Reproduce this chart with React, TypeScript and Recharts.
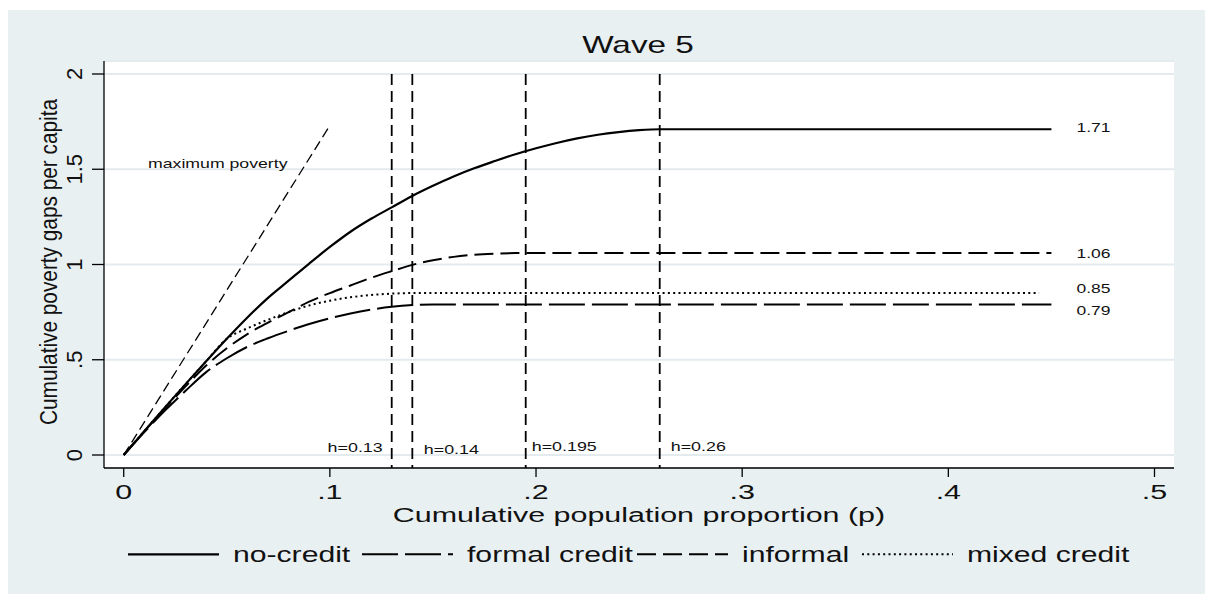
import React from "react";
import {
  LineChart,
  Line,
  XAxis,
  YAxis,
  CartesianGrid,
  ReferenceLine,
  ReferenceDot,
  Legend,
  Customized,
} from "recharts";

const FONT = "'Liberation Sans', Arial, Helvetica, sans-serif";

// ---- data: cumulative poverty gap curves (p = cumulative population proportion)
const P_NO_CREDIT = [
  0, 0.01, 0.02, 0.03, 0.04, 0.05, 0.06, 0.07, 0.08, 0.09, 0.1, 0.11, 0.12, 0.13,
  0.14, 0.15, 0.16, 0.17, 0.18, 0.19, 0.2, 0.21, 0.22, 0.23, 0.24, 0.25, 0.26, 0.45,
];
const NO_CREDIT = [
  0, 0.125, 0.25, 0.372, 0.492, 0.61, 0.722, 0.825, 0.915, 1.005, 1.092, 1.172, 1.24, 1.3,
  1.36, 1.413, 1.462, 1.505, 1.543, 1.579, 1.61, 1.638, 1.662, 1.681, 1.695, 1.705, 1.71, 1.71,
];

const P_FORMAL = [
  0, 0.01, 0.02, 0.03, 0.04, 0.05, 0.06, 0.07, 0.08, 0.09, 0.1, 0.11, 0.12, 0.13, 0.14,
  0.15, 0.45,
];
const FORMAL = [
  0, 0.12, 0.233, 0.337, 0.435, 0.508, 0.568, 0.613, 0.652, 0.688, 0.718, 0.743, 0.763, 0.778,
  0.787, 0.79, 0.79,
];

const P_INFORMAL = [
  0, 0.01, 0.02, 0.03, 0.04, 0.05, 0.06, 0.07, 0.08, 0.09, 0.1, 0.11, 0.12, 0.13, 0.14,
  0.15, 0.16, 0.17, 0.18, 0.19, 0.45,
];
const INFORMAL = [
  0, 0.125, 0.245, 0.36, 0.47, 0.56, 0.635, 0.695, 0.75, 0.805, 0.85, 0.89, 0.93, 0.965,
  0.998, 1.022, 1.04, 1.051, 1.057, 1.06, 1.06,
];

const P_MIXED = [
  0, 0.01, 0.02, 0.03, 0.04, 0.05, 0.06, 0.07, 0.08, 0.09, 0.1, 0.11, 0.12, 0.13, 0.14,
  0.444,
];
const MIXED = [
  0, 0.125, 0.25, 0.372, 0.492, 0.61, 0.665, 0.71, 0.75, 0.785, 0.81, 0.828, 0.84, 0.847,
  0.85, 0.85,
];

// maximum poverty reference ray
const P_MAX_POVERTY = [0, 0.1];
const MAX_POVERTY = [0, 1.73];

// headcount lines
const H_VALUES = [0.13, 0.14, 0.195, 0.26];
const H_LABELS = ["h=0.13", "h=0.14", "h=0.195", "h=0.26"];

const SERIES_NAMES = ["no-credit", "formal credit", "informal", "mixed credit"];

const X_TICKS = [0, 0.1, 0.2, 0.3, 0.4, 0.5];
const X_TICK_LABELS = ["0", ".1", ".2", ".3", ".4", ".5"];
const Y_TICKS = [0, 0.5, 1, 1.5, 2];
const Y_TICK_LABELS = ["0", ".5", "1", "1.5", "2"];

const TITLE = "Wave 5";
const X_TITLE = "Cumulative population proportion (p)";
const Y_TITLE = "Cumulative poverty gaps per capita";
const MAX_POVERTY_LABEL = "maximum poverty";

// ---- layout & styling
const W = 1197;
const H = 584;
const X_DOMAIN: [number, number] = [-0.00956, 0.50946];
const Y_DOMAIN: [number, number] = [-0.0682, 2.0682];
const H_LINE_TOP = 2;
const P_LABEL_ANCHOR = 0.45;
const MAX_POVERTY_LABEL_AT = { p: 0.0118, v: 1.505 };

const LINE_STYLES = [
  { dash: undefined as string | undefined, width: 2.2 },
  { dash: "36 7", width: 2 },
  { dash: "19 7", width: 2 },
  { dash: "2 3.3", width: 2 },
];
// vertical offset (px) of each end-value label centre from its line
const END_LABEL_DY = [-1.5, 6.3, 0.7, -5];
// h-label placement: side of the line, gap (px), offset above the x axis (px)
const H_LABEL_SIDE = ["left", "right", "right", "right"];
const H_LABEL_GAP = [9, 11.5, 6, 11];
const H_LABEL_RISE = [16, 14.2, 16.8, 16.8];
const LEGEND_X = [120, 354, 629, 854];
const LEGEND_SAMPLE = 91;

const zip = (ps: number[], vs: number[]) => ps.map((p, i) => ({ p, v: vs[i] }));

const SERIES = [
  { name: SERIES_NAMES[0], data: zip(P_NO_CREDIT, NO_CREDIT) },
  { name: SERIES_NAMES[1], data: zip(P_FORMAL, FORMAL) },
  { name: SERIES_NAMES[2], data: zip(P_INFORMAL, INFORMAL) },
  { name: SERIES_NAMES[3], data: zip(P_MIXED, MIXED) },
];

function WideText(props: {
  x: number;
  y: number;
  sx?: number;
  size: number;
  anchor?: "start" | "middle" | "end";
  fill?: string;
  children: React.ReactNode;
}) {
  const { x, y, sx = 1, size, anchor = "start", fill = "#111", children } = props;
  return (
    <text
      transform={`translate(${x},${y}) scale(${sx},1)`}
      x={0}
      y={0}
      fontSize={size}
      fontFamily={FONT}
      textAnchor={anchor}
      fill={fill}
    >
      {children}
    </text>
  );
}

const XTick = (props: any) => {
  const i = X_TICKS.indexOf(props.payload.value);
  return (
    <WideText x={props.x} y={props.y + 21.5} sx={1.45} size={21} anchor="middle">
      {X_TICK_LABELS[i]}
    </WideText>
  );
};

const YTick = (props: any) => {
  const i = Y_TICKS.indexOf(props.payload.value);
  return (
    <text
      transform={`translate(${props.x - 10.5},${props.y}) rotate(-90)`}
      x={0}
      y={0}
      fontSize={22}
      fontFamily={FONT}
      textAnchor="middle"
      fill="#111"
    >
      {Y_TICK_LABELS[i]}
    </text>
  );
};

const XTitle = (props: any) => {
  const vb = props.viewBox;
  return (
    <WideText x={vb.x + vb.width / 2} y={vb.y + 54} sx={1.45} size={21} anchor="middle">
      {X_TITLE}
    </WideText>
  );
};

const YTitle = (props: any) => {
  const vb = props.viewBox;
  const cy = vb.y + vb.height / 2 - 2.5;
  return (
    <text
      transform={`translate(${vb.x + 49},${cy}) rotate(-90)`}
      x={-163}
      y={0}
      fontSize={23}
      fontFamily={FONT}
      textLength={326}
      lengthAdjust="spacingAndGlyphs"
      fill="#111"
    >
      {Y_TITLE}
    </text>
  );
};

const Title = () => (
  <WideText x={630} y={43.3} sx={1.45} size={23} anchor="middle">
    {TITLE}
  </WideText>
);

const LegendBox = () => (
  <svg width={W} height={32} style={{ display: "block", overflow: "visible" }}>
    {SERIES_NAMES.map((name, i) => {
      const x0 = LEGEND_X[i];
      return (
        <g key={name}>
          <line
            x1={x0}
            x2={x0 + LEGEND_SAMPLE}
            y1={14.3}
            y2={14.3}
            stroke="#000"
            strokeWidth={LINE_STYLES[i].width}
            strokeDasharray={LINE_STYLES[i].dash}
          />
          <WideText x={x0 + LEGEND_SAMPLE + 14} y={21.7} sx={1.37} size={22}>
            {name}
          </WideText>
        </g>
      );
    })}
  </svg>
);

export default function App() {
  return (
    <div style={{ position: "absolute", left: 8, top: 10, width: W, height: H, background: "#e9f0f2" }}>
      <LineChart width={W} height={H} margin={{ top: 51, right: 31, left: 0, bottom: 66 }}>
        <CartesianGrid vertical={false} stroke="#e3ebee" strokeWidth={2} fill="#ffffff" fillOpacity={1} />
        <XAxis
          type="number"
          dataKey="p"
          domain={X_DOMAIN}
          ticks={X_TICKS}
          allowDataOverflow
          height={60}
          tickSize={9}
          tickMargin={0}
          axisLine={{ stroke: "#000", strokeWidth: 1.3 }}
          tickLine={{ stroke: "#000", strokeWidth: 1.3 }}
          tick={<XTick />}
          label={{ content: XTitle }}
        />
        <YAxis
          type="number"
          domain={Y_DOMAIN}
          ticks={Y_TICKS}
          allowDataOverflow
          width={96}
          tickSize={12}
          tickMargin={0}
          axisLine={{ stroke: "#000", strokeWidth: 1.3 }}
          tickLine={{ stroke: "#000", strokeWidth: 1.3 }}
          tick={<YTick />}
          label={{ content: YTitle }}
        />

        <Line
          data={zip(P_MAX_POVERTY, MAX_POVERTY)}
          dataKey="v"
          type="linear"
          stroke="#000"
          strokeWidth={1.3}
          strokeDasharray="10 5"
          dot={false}
          legendType="none"
          isAnimationActive={false}
        />
        {SERIES.map((s, i) => (
          <Line
            key={s.name}
            name={s.name}
            data={s.data}
            dataKey="v"
            type="monotone"
            stroke="#000"
            strokeWidth={LINE_STYLES[i].width}
            strokeDasharray={LINE_STYLES[i].dash}
            dot={false}
            isAnimationActive={false}
          />
        ))}

        {H_VALUES.map((h, i) => (
          <ReferenceLine
            key={`h-${h}`}
            segment={[
              { x: h, y: H_LINE_TOP },
              { x: h, y: Y_DOMAIN[0] },
            ]}
            stroke="#000"
            strokeWidth={1.8}
            strokeDasharray="11 6"
            ifOverflow="visible"
            label={(props: any) => {
              const vb = props.viewBox;
              const left = H_LABEL_SIDE[i] === "left";
              return (
                <WideText
                  x={vb.x + (left ? -H_LABEL_GAP[i] : H_LABEL_GAP[i])}
                  y={vb.y + vb.height - H_LABEL_RISE[i]}
                  sx={1.43}
                  size={12.5}
                  anchor={left ? "end" : "start"}
                >
                  {H_LABELS[i]}
                </WideText>
              );
            }}
          />
        ))}

        {SERIES.map((s, i) => {
          const last = s.data[s.data.length - 1].v;
          return (
            <ReferenceDot
              key={`end-${s.name}`}
              x={P_LABEL_ANCHOR}
              y={last}
              r={0}
              fill="none"
              stroke="none"
              ifOverflow="visible"
              label={(props: any) => {
                const vb = props.viewBox;
                return (
                  <WideText x={vb.x + 25} y={vb.y + END_LABEL_DY[i] + 4.5} sx={1.4} size={12.5}>
                    {last.toFixed(2)}
                  </WideText>
                );
              }}
            />
          );
        })}

        <ReferenceDot
          x={MAX_POVERTY_LABEL_AT.p}
          y={MAX_POVERTY_LABEL_AT.v}
          r={0}
          fill="none"
          stroke="none"
          ifOverflow="visible"
          label={(props: any) => (
            <WideText x={props.viewBox.x} y={props.viewBox.y} sx={1.31} size={13.5}>
              {MAX_POVERTY_LABEL}
            </WideText>
          )}
        />

        <Customized component={Title} />
        <Legend
          layout="horizontal"
          align="center"
          verticalAlign="middle"
          wrapperStyle={{ top: 530, left: 0, width: W, height: 32 }}
          content={LegendBox}
        />
      </LineChart>
    </div>
  );
}
